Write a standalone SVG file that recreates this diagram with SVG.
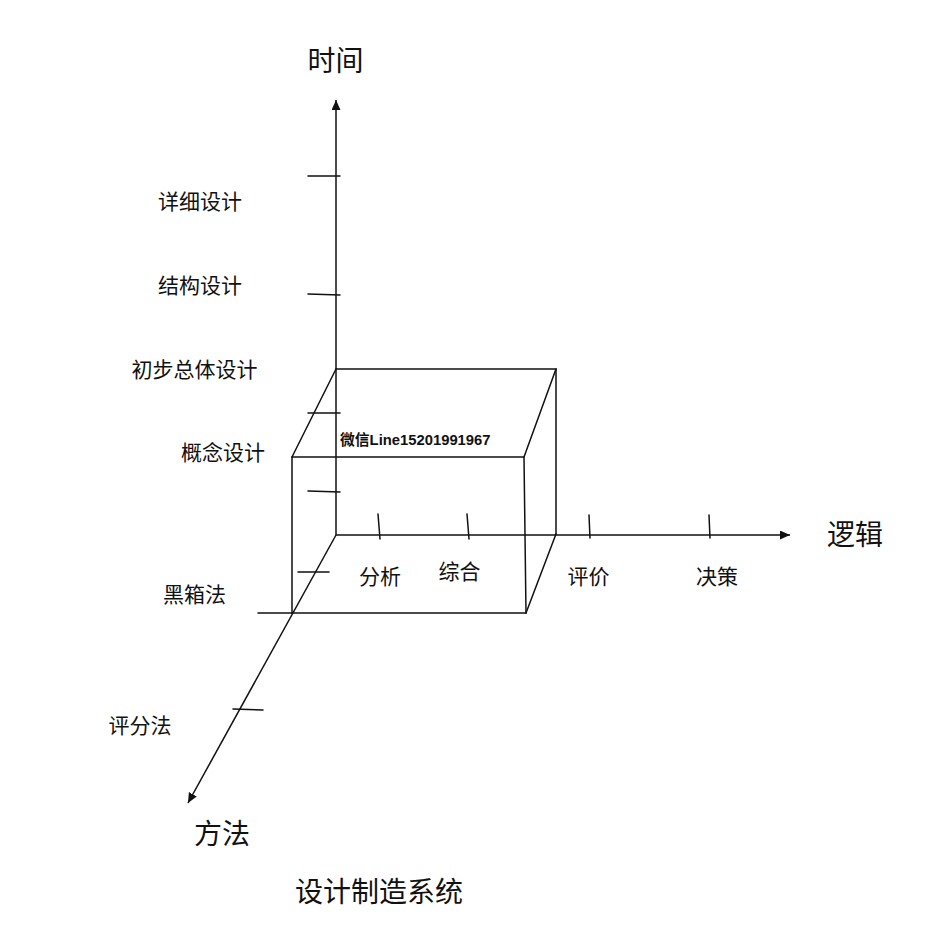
<svg xmlns="http://www.w3.org/2000/svg" width="942" height="938" viewBox="0 0 942 938">
<style>
.ln{stroke:#111;stroke-width:1.5;fill:none;stroke-linecap:round}
.ax{stroke:#111;stroke-width:1.5;fill:none}
.t{font-family:"Noto Sans CJK SC","Liberation Sans",sans-serif;fill:#111;text-anchor:middle}
.big{font-size:28px}
.lb{font-size:21px}
.wm{font-family:"Liberation Sans","Noto Sans CJK SC",sans-serif;font-size:14.8px;font-weight:bold;fill:#111}
</style>
<defs>
<marker id="arr" markerUnits="userSpaceOnUse" markerWidth="11" markerHeight="10" refX="10" refY="4.5" orient="auto">
<path d="M0,0 L10,4.5 L0,9 z" fill="#111"/>
</marker>
</defs>
<rect width="942" height="938" fill="#fff"/>
<g id="connectors">
<g id="axes">
<line class="ax" x1="336" y1="535" x2="336" y2="100" marker-end="url(#arr)"/>
<line class="ax" x1="336" y1="535" x2="790" y2="535" marker-end="url(#arr)"/>
<line class="ax" x1="336" y1="535" x2="188" y2="803" marker-end="url(#arr)"/>
</g>
<g id="box">
<polyline class="ln" points="336,369 556,369 556,534"/>
<line class="ln" x1="336" y1="369" x2="292" y2="457"/>
<line class="ln" x1="556" y1="369" x2="524" y2="457"/>
<line class="ln" x1="556" y1="534" x2="526" y2="613"/>
<polygon class="ln" points="292,457 524,457 526,613 292,613"/>
</g>
<g id="ticks">
<line class="ln" x1="308" y1="176" x2="340" y2="176"/>
<line class="ln" x1="308" y1="294" x2="340" y2="295"/>
<line class="ln" x1="308" y1="413" x2="340" y2="413"/>
<line class="ln" x1="308" y1="491" x2="340" y2="492"/>
<line class="ln" x1="378" y1="514" x2="380" y2="539"/>
<line class="ln" x1="467" y1="514" x2="469" y2="539"/>
<line class="ln" x1="589" y1="515" x2="590" y2="538"/>
<line class="ln" x1="709" y1="515" x2="710" y2="538"/>
<line class="ln" x1="298" y1="572" x2="329" y2="572"/>
<line class="ln" x1="258" y1="613" x2="292" y2="613"/>
<line class="ln" x1="233" y1="709" x2="263" y2="710"/>
</g>
</g>
<g id="axis-titles">
<text id="t-time" class="t big" x="335.5" y="71">时间</text>
<text id="t-logic" class="t big" x="855" y="545">逻辑</text>
<text id="t-method" class="t big" x="222" y="844">方法</text>
<text id="t-title" class="t big" x="379" y="902">设计制造系统</text>
</g>
<g id="time-labels">
<text id="l1" class="t lb" x="200" y="209">详细设计</text>
<text id="l2" class="t lb" x="200" y="293">结构设计</text>
<text id="l3" class="t lb" x="194.5" y="377">初步总体设计</text>
<text id="l4" class="t lb" x="223" y="460">概念设计</text>
</g>
<g id="logic-labels">
<text id="l5" class="t lb" x="380" y="584">分析</text>
<text id="l6" class="t lb" x="459.5" y="579">综合</text>
<text id="l7" class="t lb" x="588.5" y="584">评价</text>
<text id="l8" class="t lb" x="717" y="584">决策</text>
</g>
<g id="method-labels">
<text id="l9" class="t lb" x="194.5" y="602">黑箱法</text>
<text id="l10" class="t lb" x="140" y="733">评分法</text>
</g>
<g id="watermark">
<text class="wm" x="340" y="445">微信Line15201991967</text>
</g>
</svg>
